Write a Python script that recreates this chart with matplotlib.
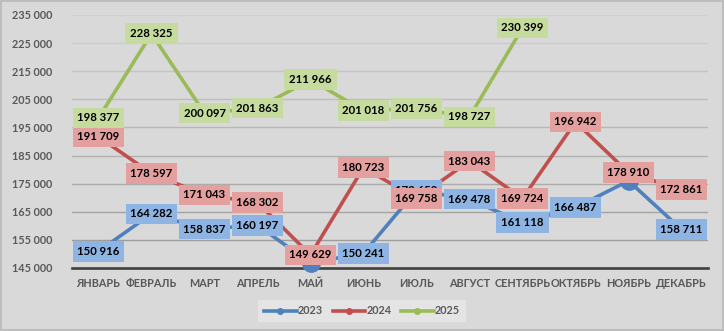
import matplotlib.pyplot as plt
from matplotlib.patches import Rectangle
from matplotlib.ticker import FuncFormatter
import numpy as np

months = ["ЯНВАРЬ", "ФЕВРАЛЬ", "МАРТ", "АПРЕЛЬ", "МАЙ", "ИЮНЬ",
          "ИЮЛЬ", "АВГУСТ", "СЕНТЯБРЬ", "ОКТЯБРЬ", "НОЯБРЬ", "ДЕКАБРЬ"]

# False in labels = point without a data label
y2023 = [150916, 164282, 158837, 160197, 146800, 150241,
         172659, 169478, 161118, 166487, 176000, 158711]
lab2023 = [True, True, True, True, False, True,
           True, True, True, True, False, True]
y2024 = [191709, 178597, 171043, 168302, 149629, 180723,
         169758, 183043, 169724, 196942, 178910, 172861]
y2025 = [198377, 228325, 200097, 201863, 211966, 201018,
         201756, 198727, 230399]

series = [
    ("2023", y2023, lab2023, "#4f81bd", "#8db4e2"),
    ("2024", y2024, [True] * 12, "#c0504d", "#e3a09f"),
    ("2025", y2025, [True] * 9, "#9bbb59", "#c6dc9e"),
]

plt.rcParams['font.family'] = ['Lato', 'DejaVu Sans']
bg = "#d9d9d9"
tick_fs = 7.8
lab_fs = 8.2

fig = plt.figure(figsize=(7.24, 3.31), dpi=100, facecolor=bg)
fig.patches.append(Rectangle((0.001, 0.002), 0.997, 0.995, transform=fig.transFigure,
                             fill=False, edgecolor="#b8b8b8", lw=1.2))
ax = fig.add_axes([72 / 724, 1 - 268 / 331, 636 / 724, 253 / 331])
ax.set_facecolor(bg)

ax.set_ylim(145000, 235000)
ax.set_xlim(-0.5, 11.5)
ticks = np.arange(145000, 235001, 10000)
ax.set_yticks(ticks)
ax.yaxis.set_major_formatter(FuncFormatter(lambda v, p: f"{v:,.0f}".replace(",", " ")))
ax.set_xticks(range(12))
ax.set_xticklabels(months)
ax.tick_params(axis="y", length=0, pad=14, labelsize=tick_fs, labelcolor="#595959")
ax.tick_params(axis="x", length=0, pad=7, labelsize=tick_fs, labelcolor="#595959")
for lbl in ax.get_xticklabels() + ax.get_yticklabels():
    lbl.set_fontweight("bold")

# gridlines get fainter towards the top
for i, t in enumerate(ticks[1:]):
    f = i / (len(ticks) - 2)
    g = 0.62 + 0.2 * f
    ax.axhline(t, color=(g, g, g), lw=1.0, zorder=1)

for s in ["top", "right", "left"]:
    ax.spines[s].set_visible(False)
ax.spines["bottom"].set_color("#404040")
ax.spines["bottom"].set_linewidth(1.9)
ax.spines["bottom"].set_zorder(2)

handles = []
for name, ys, labs, lc, bc in series:
    xs = np.arange(len(ys))
    ax.plot(xs, ys, color=lc, lw=2.6, marker="o", markersize=12.5,
            clip_on=False, zorder=3)
    h, = ax.plot([], [], color=lc, lw=2.6, marker="o", markersize=4)
    handles.append(h)

for k, (name, ys, labs, lc, bc) in enumerate(series):
    for i, (v, show) in enumerate(zip(ys, labs)):
        if not show:
            continue
        ax.text(i, v, f"{v:,}".replace(",", " "), ha="center", va="center",
                fontsize=lab_fs, fontweight="bold", color="black", zorder=5 + k,
                bbox=dict(boxstyle="square,pad=0.42", fc=bc, ec="none"))

leg = fig.legend(handles, [s[0] for s in series], loc="center",
                 bbox_to_anchor=(362 / 724, 1 - 311 / 331), ncol=3,
                 frameon=True, facecolor="#e4e4e4", edgecolor="none",
                 fontsize=tick_fs, handlelength=3.0, handletextpad=0.1,
                 columnspacing=0.9, borderpad=0.55, fancybox=False)
leg.get_frame().set_alpha(1)
for t in leg.get_texts():
    t.set_color("#595959")
    t.set_fontweight("bold")

fig.savefig("out.png", dpi=100, facecolor=bg)
